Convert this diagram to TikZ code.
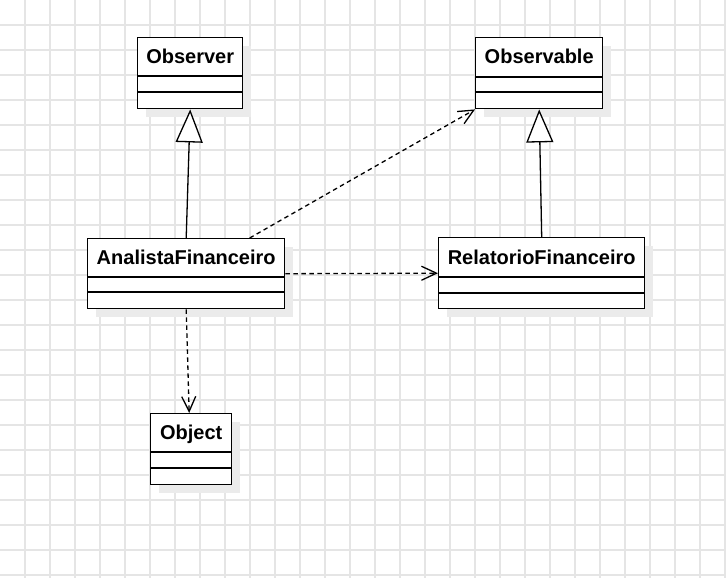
\documentclass[tikz,border=0pt]{standalone}
\usepackage{fontspec}
\setmainfont{Liberation Sans}
\usepackage{tikz}
\usepackage{xcolor}
\usetikzlibrary{arrows.meta,shadows}

\tikzset{
  gridline/.style={draw=black!10, line width=1.2pt},
  classbox/.style={draw=black, line width=1.4pt, fill=white, inner sep=0pt, anchor=north west,
    drop shadow={shadow xshift=8pt, shadow yshift=-8pt, fill=black!8, opacity=1}},
  classtitle/.style={font=\bfseries\fontsize{20}{24}\selectfont, anchor=base, inner sep=0pt},
  compline/.style={draw=black, line width=1.4pt},
  inherit/.style={draw=black, line width=1.3pt, -{Triangle[open, length=33pt, width=27pt, fill=white]}},
  depend/.style={draw=black, line width=1.3pt, dash pattern=on 4.5pt off 3.5pt,
    -{Straight Barb[length=15pt, width=14pt, line width=1.3pt]}}
}

\begin{document}
\begin{tikzpicture}[x=1pt,y=-1pt]
\useasboundingbox (0,0) rectangle (726,578);
\fill[white] (0,0) rectangle (726,578);
% grid
\foreach \gx in {25,50,...,725} \draw[gridline] (\gx,0) -- (\gx,578);
\foreach \gy in {25,50,...,575} \draw[gridline] (0,\gy) -- (726,\gy);

% classes
\node[classbox, minimum width=105pt, minimum height=71pt] (observer) at (137,37) {};
\node[classtitle] (observer-title) at ([yshift=-27pt]observer.north) {Observer};
\draw[compline] ([yshift=-39pt]observer.north west) -- ([yshift=-39pt]observer.north east);
\draw[compline] ([yshift=-55pt]observer.north west) -- ([yshift=-55pt]observer.north east);

\node[classbox, minimum width=127pt, minimum height=71pt] (observable) at (475,37) {};
\node[classtitle] (observable-title) at ([yshift=-27pt]observable.north) {Observable};
\draw[compline] ([yshift=-40pt]observable.north west) -- ([yshift=-40pt]observable.north east);
\draw[compline] ([yshift=-55pt]observable.north west) -- ([yshift=-55pt]observable.north east);

\node[classbox, minimum width=197pt, minimum height=70pt] (analista) at (87,238) {};
\node[classtitle] (analista-title) at ([yshift=-26pt]analista.north) {AnalistaFinanceiro};
\draw[compline] ([yshift=-39pt]analista.north west) -- ([yshift=-39pt]analista.north east);
\draw[compline] ([yshift=-54pt]analista.north west) -- ([yshift=-54pt]analista.north east);

\node[classbox, minimum width=206pt, minimum height=71pt] (relatorio) at (438,237) {};
\node[classtitle] (relatorio-title) at ([yshift=-27pt]relatorio.north) {RelatorioFinanceiro};
\draw[compline] ([yshift=-40pt]relatorio.north west) -- ([yshift=-40pt]relatorio.north east);
\draw[compline] ([yshift=-56pt]relatorio.north west) -- ([yshift=-56pt]relatorio.north east);

\node[classbox, minimum width=81pt, minimum height=71pt] (object) at (150,413) {};
\node[classtitle] (object-title) at ([yshift=-26pt]object.north) {Object};
\draw[compline] ([yshift=-39pt]object.north west) -- ([yshift=-39pt]object.north east);
\draw[compline] ([yshift=-55pt]object.north west) -- ([yshift=-55pt]object.north east);

% relations
\draw[inherit] (analista.north) -- (observer.south);
\draw[inherit] (relatorio.north) -- (observable.south);
\draw[depend] ([xshift=63.5pt]analista.north) -- (observable.south west);
\draw[depend] (analista.east) -- (relatorio.west);
\draw[depend] (analista.south) -- ([xshift=-2pt]object.north);
\end{tikzpicture}
\end{document}
